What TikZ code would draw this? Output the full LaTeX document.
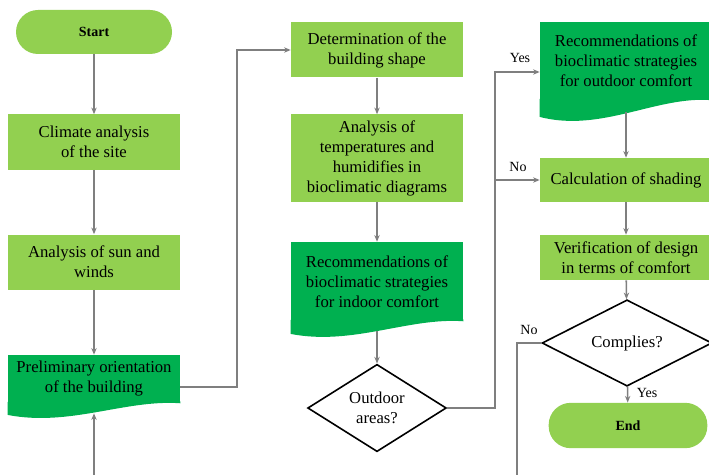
\documentclass[tikz,border=0pt]{standalone}
\usepackage{fontspec}
\setmainfont{Liberation Serif}
\usetikzlibrary{shapes.geometric,arrows.meta}
\definecolor{leaf}{RGB}{146,208,80}
\definecolor{forest}{RGB}{0,176,80}
\definecolor{wire}{RGB}{127,127,127}
\tikzstyle{arrow} = [
    line width=1.2pt,
    -{Stealth[length=5pt,width=4pt]},
    draw=wire
]
\tikzstyle{process} = [
    rectangle,
    minimum width=129pt,
    inner sep=2pt,
    text centered,
    align=center,
    fill=leaf,
    font=\fontsize{12.5}{15}\selectfont
]
\tikzstyle{docum} = [
    process,
    fill=forest
]
\tikzstyle{term} = [
    rectangle,
    rounded corners=16.5pt,
    minimum height=33pt,
    fill=leaf,
    font=\fontsize{10.5}{12}\selectfont\bfseries
]
\tikzstyle{decision} = [
    diamond,
    draw=black,
    fill=white,
    line width=1.2pt,
    inner sep=0pt,
    align=center,
    minimum height=58.5pt,
    font=\fontsize{12.5}{15}\selectfont
]
\tikzstyle{lbl} = [
    font=\fontsize{10.5}{12}\selectfont
]

\begin{document}
\begin{tikzpicture}[x=0.75pt,y=-0.75pt]
    \useasboundingbox (0,0) rectangle (709,474);
    \clip (0,0) rectangle (709,474);

    % Left column
    \node[term, minimum width=117pt] (start) at (94,32) {Start};
    \node[process, minimum height=41.25pt] (climate) at (94,142) {Climate analysis\\of the site};
    \node[process, minimum height=41.25pt] (sun) at (94,262) {Analysis of sun and\\winds};
    \node[docum, minimum height=36pt] (prelim) at (94,379) {Preliminary orientation\\of the building};
    \fill[forest] ([yshift=1pt]prelim.south west) -- ++(0,13) .. controls +(62,12) and +(-55,-4) .. (prelim.south east) -- ++(0,-2) -- cycle;

    % Middle column
    \node[process, minimum height=41.25pt] (determ) at (377,50) {Determination of the\\building shape};
    \node[process, minimum height=65.25pt] (temps) at (377,158) {Analysis of\\temperatures and\\humidifies in\\bioclimatic diagrams};
    \node[docum, minimum height=59.25pt] (indoor) at (377,281.5) {Recommendations of\\bioclimatic strategies\\for indoor comfort};
    \fill[forest] ([yshift=1pt]indoor.south west) -- ++(0,14) .. controls +(62,12) and +(-55,-4) .. (indoor.south east) -- ++(0,-2) -- cycle;
    \node[decision, minimum width=104pt] (outd) at (377,408) {Outdoor\\areas?};

    % Right column
    \node[docum, minimum height=58.5pt] (outrec) at (626,61) {Recommendations of\\bioclimatic strategies\\for outdoor comfort};
    \fill[forest] ([yshift=1pt]outrec.south west) -- ++(0,18) .. controls +(62,16) and +(-55,-5) .. (outrec.south east) -- ++(0,-2) -- cycle;
    \node[process, minimum height=33pt] (calc) at (626,180) {Calculation of shading};
    \node[process, minimum height=33.75pt] (verif) at (626,257.5) {Verification of design\\in terms of comfort};
    \node[decision, minimum width=127.5pt] (comp) at (627,343) {Complies?};
    \node[term, minimum width=119pt, minimum height=34pt] (finish) at (628,425.5) {End};

    % Connectors
    \coordinate (prelimb) at ([yshift=-7.5pt]prelim.south);
    \coordinate (indoorb) at ([yshift=-7pt]indoor.south);
    \coordinate (outrecb) at ([yshift=-9pt]outrec.south);
    \coordinate (split) at (495,408);
    \draw[arrow] (start) -- (climate);
    \draw[arrow] (climate) -- (sun);
    \draw[arrow] (sun) -- (prelim);
    \draw[arrow] ([yshift=-6pt]prelim.east) -- ++(57,0) |- (determ.west);
    \draw[arrow] (determ) -- (temps);
    \draw[arrow] (temps) -- (indoor);
    \draw[arrow] (indoorb) -- (outd);
    \draw[arrow] (outd.east) -- (split) |- ([yshift=-8.25pt]outrec.west);
    \draw[arrow] (split) |- (calc.west);
    \draw[arrow] (outrecb) -- (calc);
    \draw[arrow] (calc) -- (verif);
    \draw[arrow] (verif) -- (comp);
    \draw[arrow] (comp) -- (finish);
    \draw[arrow] (comp.west) -- ++(-24,0) -- ++(0,200) -| (prelimb);

    % Labels
    \node[lbl] (yes1) at (520,58) {Yes};
    \node[lbl] (no1) at (518,167) {No};
    \node[lbl] (no2) at (529,330) {No};
    \node[lbl] (yes2) at (647,393) {Yes};
\end{tikzpicture}
\end{document}
